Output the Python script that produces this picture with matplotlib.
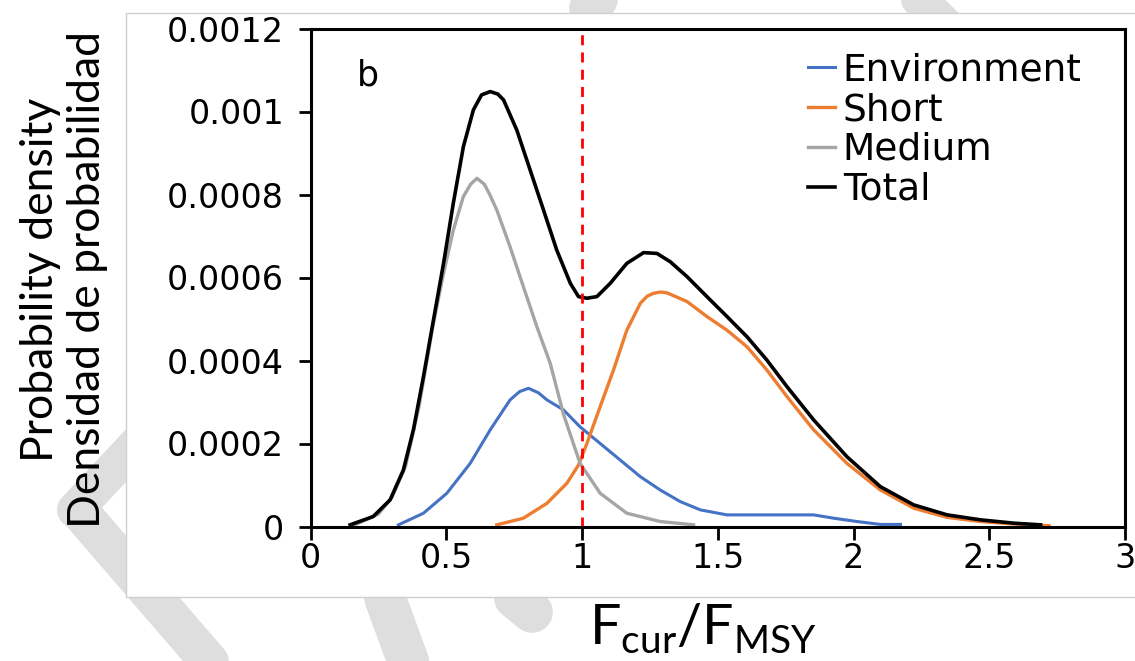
import matplotlib.pyplot as plt
from matplotlib.lines import Line2D
from matplotlib.patches import Rectangle

# F_cur/F_MSY values and densities (density in 1e-4 units)
total_x = [0.146, 0.231, 0.293, 0.342, 0.379, 0.416, 0.453, 0.490, 0.526, 0.563, 0.600,
           0.630, 0.662, 0.690, 0.711, 0.760, 0.809, 0.858, 0.907, 0.957, 0.987, 1.018,
           1.055, 1.104, 1.165, 1.227, 1.276, 1.325, 1.387, 1.460, 1.534, 1.608, 1.681,
           1.755, 1.853, 1.976, 2.099, 2.222, 2.345, 2.468, 2.591, 2.689]
total_y = [0.04, 0.24, 0.64, 1.36, 2.33, 3.61, 4.98, 6.34, 7.79, 9.15, 10.04,
           10.4, 10.48, 10.42, 10.28, 9.55, 8.59, 7.63, 6.66, 5.86, 5.54, 5.50,
           5.54, 5.86, 6.34, 6.60, 6.58, 6.38, 6.02, 5.54, 5.06, 4.57, 4.01,
           3.37, 2.57, 1.68, 0.96, 0.52, 0.28, 0.16, 0.08, 0.04]

medium_x = [0.15, 0.25, 0.30, 0.35, 0.40, 0.45, 0.49, 0.526, 0.563, 0.590, 0.613, 0.640,
            0.660, 0.686, 0.735, 0.784, 0.834, 0.883, 0.932, 0.993, 1.067, 1.165, 1.288,
            1.411]
medium_y = [0.0, 0.3, 0.7, 1.45, 2.9, 4.8, 6.1, 7.14, 7.95, 8.25, 8.39, 8.25,
            8.0, 7.63, 6.74, 5.78, 4.81, 3.93, 2.7, 1.52, 0.80, 0.32, 0.12,
            0.04]

env_x = [0.324, 0.416, 0.502, 0.588, 0.662, 0.735, 0.770, 0.803, 0.840, 0.871, 0.932,
         0.993, 1.067, 1.141, 1.215, 1.288, 1.362, 1.436, 1.534, 1.731, 1.853, 1.927,
         2.013, 2.099, 2.173]
env_y = [0.04, 0.32, 0.80, 1.52, 2.33, 3.05, 3.25, 3.33, 3.22, 3.05, 2.81,
         2.40, 2.00, 1.60, 1.20, 0.88, 0.60, 0.40, 0.28, 0.28, 0.28, 0.2,
         0.12, 0.05, 0.05]

short_x = [0.686, 0.784, 0.871, 0.944, 0.987, 1.018, 1.067, 1.116, 1.165, 1.215, 1.240,
           1.264, 1.290, 1.313, 1.387, 1.460, 1.534, 1.608, 1.681, 1.755, 1.853, 1.976,
           2.099, 2.222, 2.345, 2.468, 2.591, 2.72]
short_y = [0.04, 0.2, 0.56, 1.04, 1.48, 2.00, 2.89, 3.77, 4.73, 5.38, 5.55,
           5.62, 5.65, 5.63, 5.42, 5.06, 4.73, 4.33, 3.77, 3.13, 2.33, 1.52,
           0.88, 0.44, 0.22, 0.12, 0.06, 0.02]

x_ticks = [0, 0.5, 1, 1.5, 2, 2.5, 3]
x_tick_labels = ["0", "0.5", "1", "1.5", "2", "2.5", "3"]
y_ticks = [0, 0.0002, 0.0004, 0.0006, 0.0008, 0.001, 0.0012]
y_tick_labels = ["0", "0.0002", "0.0004", "0.0006", "0.0008", "0.001", "0.0012"]

W, H = 1135, 661


def fx(px):
    return px / W


def fy(py):
    return 1 - py / H


def scale(vals):
    return [v * 1e-4 for v in vals]


fig = plt.figure(figsize=(W / 100, H / 100), dpi=100)

# faint watermark strokes behind the picture frame
wm = "#dedede"
for (x0, y0, x1, y1, lw) in [(590, 8, 620, -30, 30), (895, -25, 960, 40, 26),
                             (75, 510, 150, 430, 26), (80, 512, 225, 680, 28),
                             (385, 598, 415, 680, 30), (515, 598, 532, 612, 30)]:
    fig.add_artist(Line2D([fx(x0), fx(x1)], [fy(y0), fy(y1)], color=wm, lw=lw,
                          solid_capstyle="round", zorder=0))

# white picture frame
fig.add_artist(Rectangle((fx(126), fy(597)), 1.0, fy(13) - fy(597), facecolor="white",
                         edgecolor="#cfcfcf", lw=1, zorder=1))

ax = fig.add_axes([fx(310.5), fy(526.5), fx(1125) - fx(310.5), fy(28.5) - fy(526.5)])
ax.set_zorder(2)
ax.patch.set_alpha(0)

ax.plot(env_x, scale(env_y), color="#4472C4", lw=2.2, label="Environment")
ax.plot(short_x, scale(short_y), color="#ED7D31", lw=2.4, label="Short")
ax.plot(medium_x, scale(medium_y), color="#A5A5A5", lw=2.4, label="Medium")
ax.plot(total_x, scale(total_y), color="black", lw=2.6, label="Total")
ax.axvline(1, color="red", lw=2, dashes=(3.6, 2.6))

ax.set_xlim(0, 3)
ax.set_ylim(0, 0.0012)
ax.set_xticks(x_ticks, x_tick_labels)
ax.set_yticks(y_ticks, y_tick_labels)
for s in ax.spines.values():
    s.set_linewidth(2.2)
ax.tick_params(axis="x", direction="out", length=9, width=2, pad=2, labelsize=24)
ax.tick_params(axis="y", direction="out", length=9, width=2, pad=10, labelsize=24)
for lab in ax.get_xticklabels() + ax.get_yticklabels():
    lab.set_family("DejaVu Sans")

ax.text(0.0706, 0.9066, "b", transform=ax.transAxes, ha="center", va="center",
        fontsize=25, family="DejaVu Sans")

ax.legend(loc="upper left", bbox_to_anchor=(0.611, 0.952), frameon=False,
          handlelength=0.72, handletextpad=0.2, labelspacing=0.1, borderpad=0,
          borderaxespad=0, prop={"family": "DejaVu Sans", "size": 27})

fig.text(fx(64), fy(280), "Probability density\nDensidad de probabilidad", rotation=90,
         ha="center", va="center", multialignment="center", family="Lato",
         fontsize=32, linespacing=1.2)
fig.text(fx(703), fy(628), r"F$_\mathregular{cur}$/F$_\mathregular{MSY}$",
         ha="center", va="center", family="Lato", fontsize=40)

fig.savefig("out.png", dpi=100)
